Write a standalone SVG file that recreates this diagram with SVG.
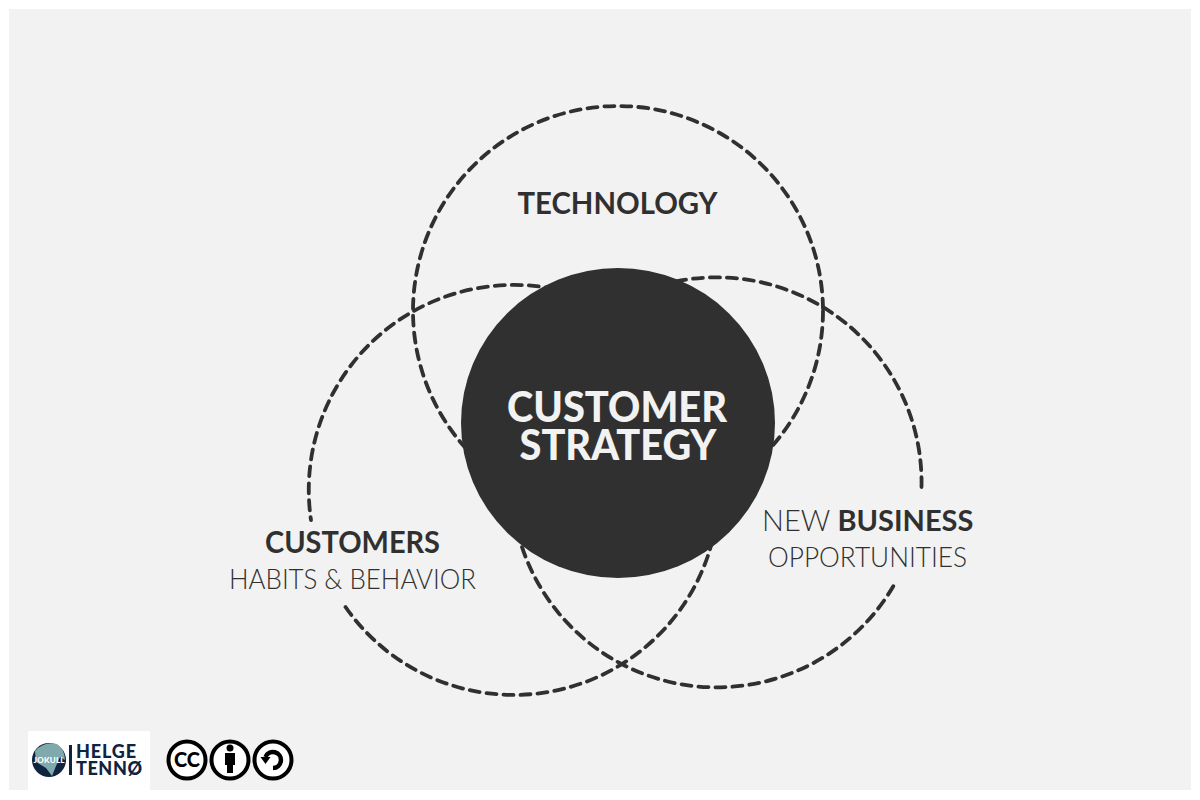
<svg xmlns="http://www.w3.org/2000/svg" width="1200" height="800" viewBox="0 0 1200 800">
<style>
.ring{fill:none;stroke:#303030;stroke-width:3.800;stroke-dasharray:10 7;stroke-linecap:round}
text{font-family:Lato,"Liberation Sans",sans-serif;fill:#303030}
.b{font-weight:700}
.l{font-weight:300}
.m{text-anchor:middle}
.logo{font-family:Lato,"Liberation Sans",sans-serif;font-weight:900;fill:#10233f;font-size:18px}
.cc{fill:#fff;stroke:#000;stroke-width:4}
</style>
<rect width="1200" height="800" fill="#fff"/>
<rect x="9" y="9" width="1182" height="781" fill="#f2f2f2"/>
<g id="connectors">
<circle class="ring" cx="618" cy="311" r="205"/>
<path class="ring" d="M345.500 607A205 205 0 1 0 311 520"/>
<path class="ring" d="M921.500 487A205 205 0 1 0 894 585"/>
</g>
<g id="center"><ellipse cx="618" cy="423" rx="157" ry="155" fill="#303030"/>
<text class="m" x="617" y="422" font-size="42" textLength="220" lengthAdjust="spacingAndGlyphs" style="fill:#f2f2f2;font-weight:900">CUSTOMER</text>
<text class="m" x="618" y="460" font-size="42" textLength="197" lengthAdjust="spacingAndGlyphs" style="fill:#f2f2f2;font-weight:900">STRATEGY</text></g>
<g id="technology"><text class="b m" x="617.500" y="214" font-size="31" textLength="200" lengthAdjust="spacingAndGlyphs">TECHNOLOGY</text></g>
<g id="customers">
<text class="b m" x="352.500" y="553" font-size="31" textLength="175" lengthAdjust="spacingAndGlyphs">CUSTOMERS</text>
<text class="l m" x="352.500" y="589" font-size="27" textLength="247" lengthAdjust="spacingAndGlyphs">HABITS &amp; BEHAVIOR</text></g>
<g id="business">
<text x="762" y="531" font-size="29"><tspan class="l">NEW </tspan><tspan class="b">BUSINESS</tspan></text>
<text class="l m" x="867.500" y="567" font-size="27" textLength="199" lengthAdjust="spacingAndGlyphs">OPPORTUNITIES</text></g>
<g id="logo">
<rect x="28" y="731" width="122" height="59" fill="#fff"/>
<circle cx="49" cy="760" r="17" fill="#10233f"/>
<path d="M35 751Q44 741 57 744Q65 750 65 760L60 757 56 766 52 776 46 768 36 762Z" fill="#7fa9ad"/>
<text x="49" y="763" font-size="8" text-anchor="middle" textLength="31" style="fill:#fff;font-weight:900">JOKULL</text>
<rect x="69" y="745" width="3" height="30" fill="#10233f"/>
<text class="logo" x="76" y="758" textLength="60" lengthAdjust="spacing">HELGE</text>
<text class="logo" x="76" y="775" textLength="66" lengthAdjust="spacing">TENNØ</text>
</g>
<g id="cc">
<circle class="cc" cx="187" cy="760" r="18.500"/>
<text x="187" y="767" font-size="20" text-anchor="middle" style="fill:#000;font-weight:900">CC</text>
<circle class="cc" cx="230" cy="760" r="18.500"/>
<circle cx="230" cy="748" r="3.500"/>
<path d="M225 753H235V765H233V773H227V765H225Z"/>
<circle class="cc" cx="273" cy="760" r="18.500"/>
<path d="M265.500 757A8 8 0 1 1 273 768" fill="none" stroke="#000" stroke-width="4.500"/>
<path d="M260.500 757H270.500L265.500 764Z"/>
</g>
</svg>
